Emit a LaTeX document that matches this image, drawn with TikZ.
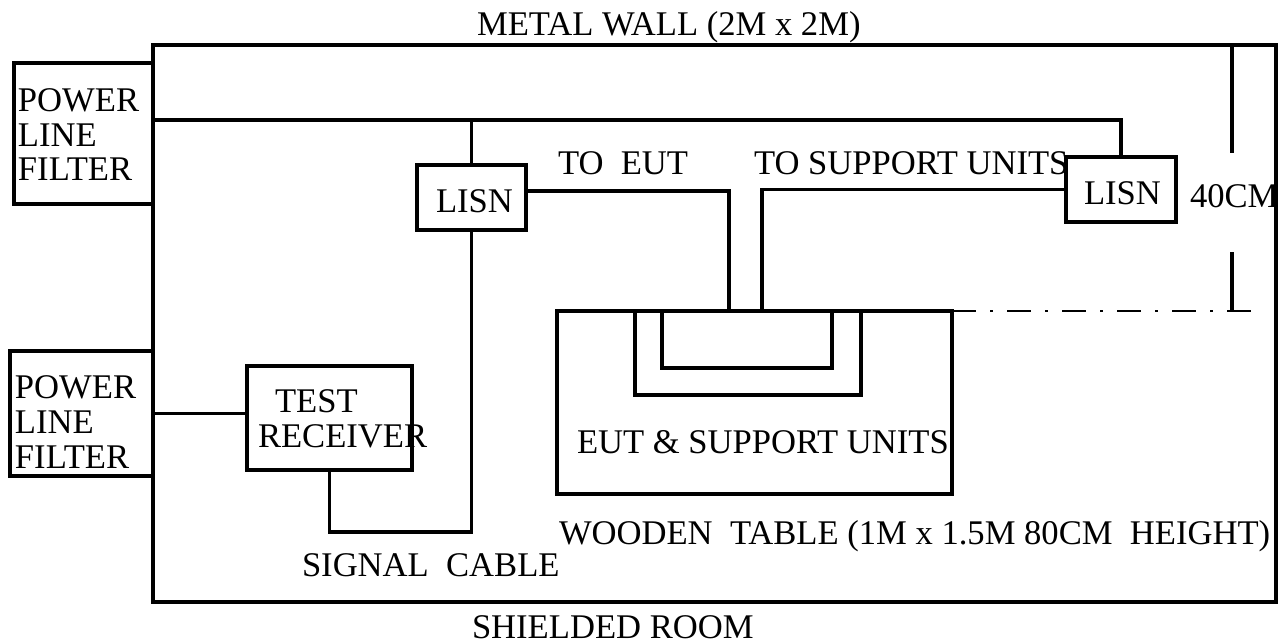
\documentclass[tikz,border=0pt]{standalone}
\usepackage{fontspec}
\setmainfont{Liberation Serif}
\begin{document}
\begin{tikzpicture}[x=0.5pt,y=-0.5pt,
  box/.style={draw, rectangle, line width=1.7pt, inner sep=0pt, outer sep=0pt},
  wire/.style={line width=1.7pt},
  lbl/.style={anchor=base west, inner sep=0pt, outer sep=0pt, font=\fontsize{17.3}{18}\selectfont},
  dimline/.style={line width=0.8pt, dash pattern=on 12pt off 7pt on 1.5pt off 7pt}]
\useasboundingbox (0,0) rectangle (1287,643);

% shielded room
\node[box, minimum width=561.5pt, minimum height=278.5pt] (room) at (714.5,323.5) {};

% power line filters
\node[box, minimum width=69.5pt, minimum height=70.5pt] (pf1) at (83.5,133.5) {};
\node[box, minimum width=71.5pt, minimum height=62.5pt] (pf2) at (81.5,413.5) {};

% LISNs
\node[box, minimum width=54.5pt, minimum height=32.5pt] (lisn1) at (471.5,197.5) {};
\node[box, minimum width=55pt, minimum height=32.5pt] (lisn2) at (1121,189.5) {};

% test receiver
\node[box, minimum width=82.5pt, minimum height=52pt] (rx) at (329.5,418) {};

% wooden table and EUT outlines
\node[box, minimum width=197.5pt, minimum height=91.5pt] (table) at (754.5,402.5) {};
\node[box, minimum width=113pt, minimum height=42pt] (eutout) at (748,353) {};
\node[box, minimum width=85pt, minimum height=28.5pt] (eutin) at (747,339.5) {};

% coordinates
\coordinate (pwr) at (153,120);
\coordinate (eutcab) at (729,311);
\coordinate (supcab) at (762,311);
\coordinate (sigb) at (0,532);
\coordinate (d1) at (1232,45);
\coordinate (d2) at (1232,153);
\coordinate (d3) at (1232,252);
\coordinate (d4) at (1232,310);
\coordinate (ddend) at (1260,311);

% wiring
\draw[wire] (pwr) -| (lisn2.north);
\draw[wire] (lisn1.north) -- (lisn1.north |- pwr);
\draw[wire] ([yshift=3.25pt]lisn1.east) -| (eutcab);
\draw[wire] (supcab) |- (lisn2.west);
\draw[wire] (pf2.east) -- (pf2.east -| rx.west);
\draw[wire] (rx.south) |- (lisn1.south |- sigb) -- (lisn1.south);

% 40CM dimension
\draw[wire] (d1) -- (d2);
\draw[wire] (d3) -- (d4);
\draw[dimline] (table.north east) -- (ddend);

% texts
\node[lbl] (tmw) at (477,35) {METAL WALL (2M x 2M)};
\node[lbl] (tp1a) at (18,111) {POWER};
\node[lbl] (tp1b) at (18,146) {LINE};
\node[lbl] (tp1c) at (18,180) {FILTER};
\node[lbl] (tp2a) at (15,398) {POWER};
\node[lbl] (tp2b) at (15,433) {LINE};
\node[lbl] (tp2c) at (15,468) {FILTER};
\node[lbl] (tl1) at (436,212) {LISN};
\node[lbl] (tl2) at (1084,204) {LISN};
\node[lbl] (teut) at (558,174) {TO\ \ EUT};
\node[lbl] (tsup) at (754,174) {TO SUPPORT UNITS};
\node[lbl] (t40) at (1190,207) {40CM};
\node[lbl] (ttest) at (275,412) {TEST};
\node[lbl] (trec) at (258,447) {RECEIVER};
\node[lbl] (teutsu) at (577,453) {EUT \& SUPPORT UNITS};
\node[lbl] (twood) at (559,544) {WOODEN\ \ TABLE (1M x 1.5M 80CM\ \ HEIGHT)};
\node[lbl] (tsig) at (302,576) {SIGNAL\ \ CABLE};
\node[lbl] (tshield) at (472,638) {SHIELDED ROOM};
\end{tikzpicture}
\end{document}
